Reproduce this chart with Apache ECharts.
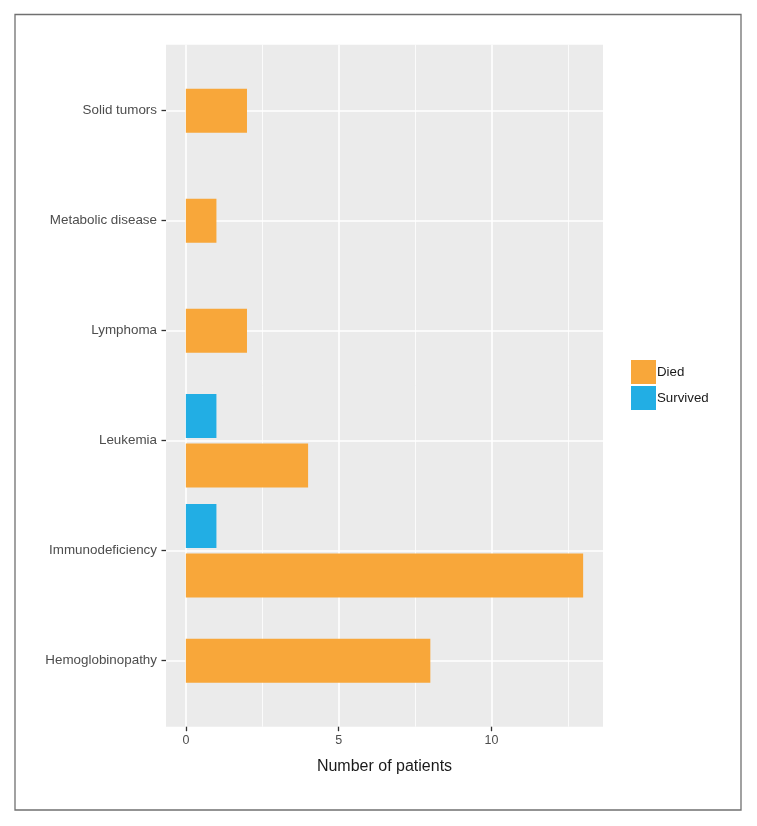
<!DOCTYPE html>
<html>
<head>
<meta charset="utf-8">
<script src="https://cdn.jsdelivr.net/npm/echarts@6/dist/echarts.min.js"></script>
<style>
html,body{margin:0;padding:0;background:#fff;}
#chart{width:757px;height:826px;}
</style>
</head>
<body>
<div id="chart"></div>
<script>
// Categories listed bottom to top
const categories = ['Hemoglobinopathy', 'Immunodeficiency', 'Leukemia', 'Lymphoma', 'Metabolic disease', 'Solid tumors'];
const died = [8, 13, 4, 2, 1, 2];
const survived = [null, 1, 1, null, null, null];
const xTicks = [0, 5, 10];
const xMinorTicks = [2.5, 7.5, 12.5];
const seriesNames = ['Died', 'Survived'];

const BAR = 0.4;       // bar thickness in category units
const DODGE = 0.225;   // half of dodge distance
const FONT = "'Liberation Sans', Arial, Helvetica, sans-serif";
const colors = { Died: '#F8A73A', Survived: '#22AEE4' };

const catIdx = categories.map((_, i) => i);

const diedData = died.map((v, i) => [v, i, survived[i] != null ? -DODGE : 0]);
const survData = [];
survived.forEach((v, i) => { if (v != null) survData.push([v, i, DODGE]); });

function renderBar(color) {
  return function (params, api) {
    const v = api.value(0), y = api.value(1), off = api.value(2);
    const p0 = api.coord([0, y + off + BAR / 2]);
    const p1 = api.coord([v, y + off - BAR / 2]);
    return {
      type: 'rect',
      shape: { x: p0[0], y: p0[1], width: p1[0] - p0[0], height: p1[1] - p0[1] },
      style: { fill: color }
    };
  };
}

const chart = echarts.init(document.getElementById('chart'), null, { renderer: 'canvas' });
chart.setOption({
  animation: false,
  backgroundColor: '#ffffff',
  textStyle: { fontFamily: FONT },
  graphic: [{
    type: 'rect',
    shape: { x: 15, y: 14.5, width: 726, height: 795.5 },
    style: { fill: 'none', stroke: '#707070', lineWidth: 1.3 },
    silent: true
  }],
  grid: {
    left: 166, right: 154, top: 44.7, bottom: 99.3,
    show: true, backgroundColor: '#EBEBEB', borderWidth: 0
  },
  legend: {
    orient: 'vertical',
    left: 631, top: 360, padding: 0,
    itemWidth: 25, itemHeight: 24, itemGap: 2,
    icon: 'rect',
    data: seriesNames,
    textStyle: { fontSize: 13.3, color: '#1a1a1a', fontFamily: FONT, padding: [0, 0, 0, -4] }
  },
  xAxis: [{
    type: 'value', min: -0.65, max: 13.65, position: 'bottom',
    axisLine: { show: false, onZero: false },
    axisTick: { show: true, customValues: xTicks, length: 4.5, lineStyle: { color: '#333', width: 1.3 } },
    axisLabel: { customValues: xTicks, fontSize: 12.5, color: '#4d4d4d', margin: 7, fontFamily: FONT },
    splitLine: { show: true, lineStyle: { color: '#ffffff', width: 1.6 } },
    name: 'Number of patients', nameLocation: 'middle', nameGap: 32,
    nameTextStyle: { fontSize: 16, color: '#1a1a1a', fontFamily: FONT }
  }, {
    type: 'value', min: -0.65, max: 13.65, position: 'bottom',
    axisLine: { show: false, onZero: false },
    axisTick: { show: false, customValues: xMinorTicks },
    axisLabel: { show: false, customValues: xMinorTicks },
    splitLine: { show: true, lineStyle: { color: '#ffffff', width: 0.8 } }
  }],
  yAxis: {
    type: 'value', min: -0.6, max: categories.length - 0.4, position: 'left',
    axisLine: { show: false, onZero: false },
    axisTick: { show: true, customValues: catIdx, length: 4.5, lineStyle: { color: '#333', width: 1.3 } },
    axisLabel: {
      customValues: catIdx, fontSize: 13.4, color: '#4d4d4d', margin: 9, fontFamily: FONT,
      formatter: v => categories[Math.round(v)]
    },
    splitLine: { show: true, lineStyle: { color: '#ffffff', width: 1.6 } }
  },
  series: [{
    name: 'Died', type: 'custom', xAxisIndex: 0, yAxisIndex: 0,
    itemStyle: { color: colors.Died },
    encode: { x: 0, y: 1 },
    renderItem: renderBar(colors.Died),
    data: diedData
  }, {
    name: 'Survived', type: 'custom', xAxisIndex: 0, yAxisIndex: 0,
    itemStyle: { color: colors.Survived },
    encode: { x: 0, y: 1 },
    renderItem: renderBar(colors.Survived),
    data: survData
  }]
});
</script>
</body>
</html>
